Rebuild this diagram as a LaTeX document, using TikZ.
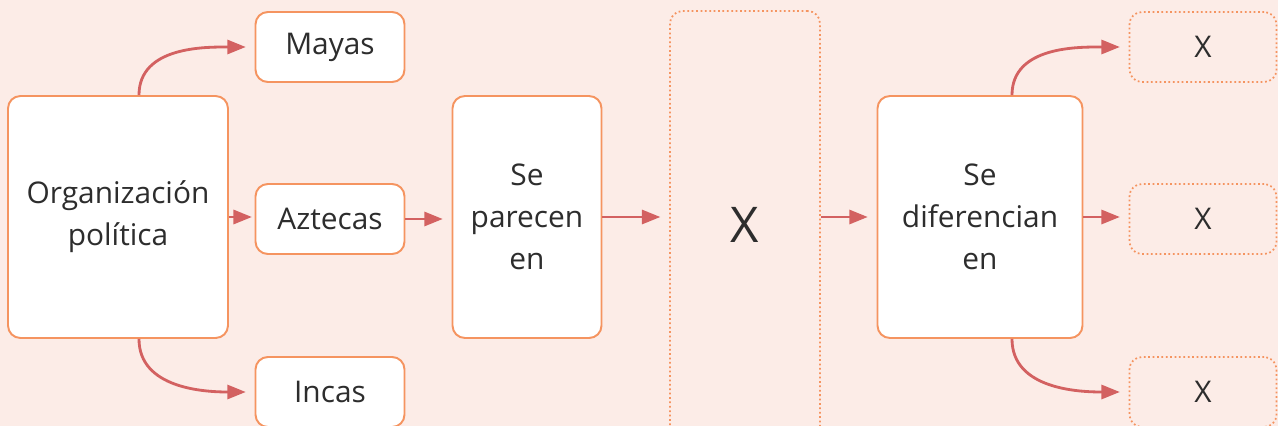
\documentclass[tikz,border=0pt]{standalone}
\usepackage{fontspec}
\setmainfont{Open Sans}
\usetikzlibrary{arrows.meta,positioning,calc}
\definecolor{bgpink}{RGB}{252,236,231}
\definecolor{boxorange}{RGB}{245,148,96}
\definecolor{arrowred}{RGB}{211,97,97}
\definecolor{txtgray}{RGB}{45,45,45}

\begin{document}
\begin{tikzpicture}[x=0.02cm,y=-0.02cm,
  box/.style={draw=boxorange, line width=1.1pt, fill=white, rounded corners=7pt,
    align=center, text=txtgray, font=\fontsize{17}{24}\selectfont, inner sep=0pt},
  blank/.style={draw=boxorange, line width=1pt, dash pattern=on 1pt off 1.5pt,
    rounded corners=7pt, align=center, text=txtgray, font=\fontsize{17}{24}\selectfont, inner sep=0pt},
  link/.style={draw=arrowred, line width=1.6pt, -{Triangle[length=10.5pt,width=8pt]}, shorten >=5pt}]
  % Background
  \fill[bgpink] (0,0) rectangle (1278,426);
  \useasboundingbox (0,0) rectangle (1278,426);
  % Left group
  \node[box, minimum width=4.4cm, minimum height=4.84cm] (org) at (118,217) {Organización\\política};
  \node[box, minimum width=2.98cm, minimum height=1.4cm] (mayas) at (330,47) {Mayas};
  \node[box, minimum width=2.98cm, minimum height=1.4cm] (aztecas) at (330,219) {Aztecas};
  \node[box, minimum width=2.98cm, minimum height=1.4cm] (incas) at (330,392) {Incas};
  % Middle
  \node[box, minimum width=2.98cm, minimum height=4.84cm] (parecen) at (527,217) {Se\\parecen\\en};
  \node[blank, minimum width=3cm, minimum height=8.56cm, font=\fontsize{28}{34}\selectfont] (comun) at (745,225) {X};
  \node[box, minimum width=4.1cm, minimum height=4.84cm] (difieren) at (980,217) {Se\\diferencian\\en};
  % Right group
  \node[blank, minimum width=2.94cm, minimum height=1.4cm] (difA) at (1203,47) {X};
  \node[blank, minimum width=2.94cm, minimum height=1.4cm] (difB) at (1203,219) {X};
  \node[blank, minimum width=2.94cm, minimum height=1.4cm] (difC) at (1203,392) {X};
  % Arrows
  \draw[link] ([xshift=0.42cm]org.north) to[out=90,in=180] (mayas.west);
  \draw[link, shorten >=1.5pt] (org.east) -- (org.east -| aztecas.west);
  \draw[link] ([xshift=0.42cm]org.south) to[out=-90,in=180] (incas.west);
  \draw[link] (aztecas.east) -- (aztecas.east -| parecen.west);
  \draw[link] (parecen.east) -- (parecen.east -| comun.west);
  \draw[link] (comun.east |- difieren.west) -- (difieren.west);
  \draw[link] ([xshift=0.64cm]difieren.north) to[out=90,in=180] (difA.west);
  \draw[link] (difieren.east) -- (difieren.east -| difB.west);
  \draw[link] ([xshift=0.64cm]difieren.south) to[out=-90,in=180] (difC.west);
\end{tikzpicture}
\end{document}
